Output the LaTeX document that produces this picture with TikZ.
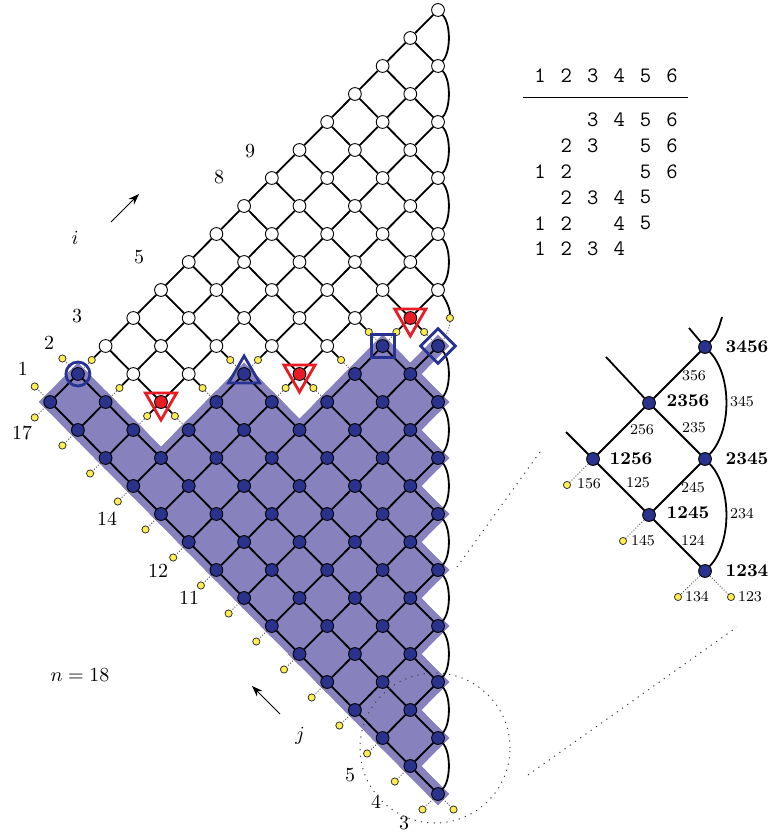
\documentclass[tikz,border=0pt]{standalone}
\usetikzlibrary{shapes.geometric,arrows.meta,calc}
\definecolor{nodeBlue}{RGB}{42,50,140}
\definecolor{shadeBlue}{RGB}{135,130,190}
\definecolor{dotYellow}{RGB}{255,238,80}
\definecolor{cutRed}{RGB}{232,28,36}
\definecolor{markBlue}{RGB}{40,50,145}
\pgfdeclarelayer{shade}
\pgfdeclarelayer{edges}
\pgfsetlayers{shade,edges,main}
\tikzset{
    % lattice edges and vertices
    lat/.style={line width=0.9pt},
    lnode/.style={circle, draw=black, line width=0.45pt, inner sep=0pt, minimum size=6.4pt},
    ydot/.style={circle, draw=black!80, line width=0.4pt, fill=dotYellow, inner sep=0pt, minimum size=3.6pt},
    stub/.style={draw=black!70, line width=0.45pt, dash pattern=on 0.5pt off 0.9pt},
    % shaded domain
    band/.style={draw=shadeBlue, line width=8pt, line cap=rect},
    % markers
    mk/.style={draw=markBlue, line width=1.4pt, inner sep=0pt},
    mkred/.style={draw=cutRed, line width=1.4pt, inner sep=0pt},
    % texts
    lab/.style={inner sep=0pt},
    setlab/.style={font=\fontsize{9}{11}\selectfont\bfseries, inner sep=0pt},
    elab/.style={font=\fontsize{7.5}{9}\selectfont, inner sep=0pt},
    tabd/.style={font=\ttfamily\fontsize{11}{13}\selectfont, inner sep=0pt},
    arr/.style={-{Stealth[length=5.5pt,width=4pt]}, line width=0.5pt},
    zoomline/.style={draw=black!75, line width=0.5pt, dash pattern=on 0.6pt off 2.6pt},
    lens/.style={circle, zoomline, minimum size=75pt, inner sep=0pt},
}
% first blue row on each diagonal, and red vertex on it
\def\bluefrom{{13,13,13,10,10,7,6,7,8,9,10,11,12,13,14}}
\def\redat{{-1,-1,12,-1,9,6,-1,-1,-1,-1,-1,-1,-1,-1,-1}}
% 0 white, 1 red, 2 blue
\newcommand{\gettype}[3]{%
  \pgfmathtruncatemacro\gtf{\bluefrom[#2]}%
  \pgfmathtruncatemacro\gtr{\redat[#2]}%
  \ifnum#1<\gtf\relax
    \ifnum#1=\gtr\relax\def#3{1}\else\def#3{0}\fi
  \else\def#3{2}\fi}
\newcommand{\latedge}[4]{%
  \gettype{#1}{#2}{\tya}\gettype{#3}{#4}{\tyb}%
  \def\ek{0}%
  \ifnum\tya=2 \ifnum\tyb<2 \def\ek{1}\fi\else\ifnum\tyb=2 \def\ek{2}\fi\fi
  \ifcase\ek\relax
    \draw[lat] (v-#1-#2) -- (v-#3-#4);
  \or
    \node[ydot] (c-#1-#2-#3-#4) at ($(v-#1-#2)!0.5!(v-#3-#4)$) {};
    \draw[stub] (v-#1-#2) -- (c-#1-#2-#3-#4);
    \draw[lat] (c-#1-#2-#3-#4) -- (v-#3-#4);
  \or
    \node[ydot] (c-#1-#2-#3-#4) at ($(v-#1-#2)!0.5!(v-#3-#4)$) {};
    \draw[lat] (v-#1-#2) -- (c-#1-#2-#3-#4);
    \draw[stub] (c-#1-#2-#3-#4) -- (v-#3-#4);
  \fi}
\newcommand{\latarc}[2]{%
  \gettype{#1}{#1}{\tya}\gettype{#2}{#2}{\tyb}%
  \def\ek{0}%
  \ifnum\tya<2 \ifnum\tyb=2 \def\ek{1}\fi\fi
  \ifcase\ek\relax
    \draw[lat] (v-#1-#1) .. controls +(13,14) and +(13,-14) .. (v-#2-#2);
  \or
    \node[ydot] (c-arc-#1) at ($(v-#1-#1)+(12,28)$) {};
    \draw[lat] (v-#1-#1) .. controls +(6,7) and +(0,-10.5) .. (c-arc-#1);
    \draw[stub] (c-arc-#1) .. controls +(0,10.5) and +(6,-7) .. (v-#2-#2);
  \fi}
\newcommand{\outstub}[4]{%
  \node[ydot] (o-#1-#2-#3) at ($(v-#1-#2)+#4$) {};
  \draw[stub] (v-#1-#2) -- (o-#1-#2-#3);}

\begin{document}
\begin{tikzpicture}[x=0.5pt,y=-0.5pt]
    \useasboundingbox (0,0) rectangle (771,833);

    % lattice vertices
    \foreach \p in {0,...,14}{
        \foreach \q in {0,...,\p}{
            \gettype{\p}{\q}{\tya}
            \ifcase\tya\relax \def\fc{white}\or\def\fc{cutRed}\or\def\fc{nodeBlue}\fi
            \node[lnode, fill=\fc] (v-\p-\q) at ({438+27.7*(\q-\p)},{10+28*(\p+\q)}) {};
        }
    }

    % lattice edges
    \begin{pgfonlayer}{edges}
    \foreach \p in {0,...,14}{
        \foreach \q in {0,...,\p}{
            \pgfmathtruncatemacro\pn{\p+1}
            \pgfmathtruncatemacro\qn{\q+1}
            \ifnum\p<14 \latedge{\p}{\q}{\pn}{\q}\fi
            \ifnum\q<\p \latedge{\p}{\q}{\p}{\qn}\else
                \ifnum\p<14 \latarc{\p}{\pn}\fi
            \fi
        }
    }
    \foreach \q in {0,...,14} \outstub{14}{\q}{dl}{(-15.5,15.5)};
    \outstub{14}{14}{dr}{(15.5,15.5)}
    \outstub{13}{0}{ul}{(-15.5,-15.5)}
    \outstub{14}{0}{ul}{(-15.5,-15.5)}
    \end{pgfonlayer}

    % shaded domain
    \begin{pgfonlayer}{shade}
    \foreach \p in {0,...,14}{
        \foreach \q in {0,...,\p}{
            \gettype{\p}{\q}{\tya}
            \ifnum\tya=2
                \pgfmathtruncatemacro\pn{\p+1}
                \pgfmathtruncatemacro\qn{\q+1}
                \ifnum\p<14 \draw[band] (v-\p-\q.center) -- (v-\pn-\q.center);\fi
                \ifnum\q<\p
                    \draw[band] (v-\p-\q.center) -- (v-\p-\qn.center);
                    \ifnum\p<14
                        \fill[shadeBlue] (v-\p-\q.center) -- (v-\pn-\q.center) -- (v-\pn-\qn.center) -- (v-\p-\qn.center) -- cycle;
                    \fi
                \fi
            \fi
        }
    }
    \end{pgfonlayer}

    % markers
    \node[mk, circle, minimum size=12pt] (mk-circ) at (v-13-0) {};
    \node[mk, regular polygon, regular polygon sides=3, minimum size=18pt] (mk-tri) at (v-10-3) {};
    \foreach \p/\q in {12/2, 9/4, 6/5}
        \node[mkred, regular polygon, regular polygon sides=3, shape border rotate=180, minimum size=18pt] (mk-r-\p) at (v-\p-\q) {};
    \node[mk, rectangle, minimum size=11.5pt] (mk-sq) at (v-7-5) {};
    \node[mk, diamond, minimum size=18pt] (mk-dia) at (v-6-6) {};

    % diagonal numbers
    \foreach \t/\x/\y in {1/23/369, 2/49/343, 3/77/316, 5/139/257, 8/219/177, 9/250/151,
                          17/22/433, 14/107/519, 12/158/571, 11/189/598, 5/350/775, 4/376/802, 3/404/823}
        \node[lab] (l-\x) at (\x,\y) {\t};
    \node[lab] (l-i) at (75,238) {$i$};
    \coordinate (ia) at (111,222);
    \coordinate (ib) at (139,194);
    \draw[arr] (ia) -- (ib);
    \node[lab] (l-j) at (300,736) {$j$};
    \coordinate (ja) at (280,714);
    \coordinate (jb) at (252,686);
    \draw[arr] (ja) -- (jb);
    \node[lab] (l-n) at (80,675) {$n=18$};

    % zoom circle and its lines
    \node[lens] (lens) at (435,748) {};
    \coordinate (zl1a) at (540,452);
    \coordinate (zl1b) at (457,567);
    \draw[zoomline] (zl1a) -- (zl1b);
    \coordinate (zl2a) at (528,775);
    \coordinate (zl2b) at (737,627);
    \draw[zoomline] (zl2a) -- (zl2b);

    % enlarged corner
    \node[lnode, fill=nodeBlue] (z3456) at (705,347) {};
    \node[lnode, fill=nodeBlue] (z2356) at (649,403) {};
    \node[lnode, fill=nodeBlue] (z1256) at (593,459) {};
    \node[lnode, fill=nodeBlue] (z2345) at (705,459) {};
    \node[lnode, fill=nodeBlue] (z1245) at (649,515) {};
    \node[lnode, fill=nodeBlue] (z1234) at (705,571) {};
    \node[ydot] (y156) at (567,485) {};
    \node[ydot] (y145) at (623,541) {};
    \node[ydot] (y134) at (678,597) {};
    \node[ydot] (y123) at (731,597) {};
    \coordinate (zt1) at (689,328);
    \coordinate (zt2) at (722,317);
    \coordinate (zt3) at (606,357);
    \coordinate (zt4) at (566,432);
    \begin{pgfonlayer}{edges}
    \draw[lat] (z3456) -- (z2356);
    \draw[lat] (z2356) -- (z1256);
    \draw[lat] (z2356) -- (z2345);
    \draw[lat] (z1256) -- (z1245);
    \draw[lat] (z2345) -- (z1245);
    \draw[lat] (z1245) -- (z1234);
    \draw[lat] (z3456) .. controls +(27,28) and +(27,-28) .. (z2345);
    \draw[lat] (z2345) .. controls +(27,28) and +(27,-28) .. (z1234);
    \draw[lat] (z3456) -- (zt1);
    \draw[lat] (z3456) .. controls +(12,-12) and +(-3,10) .. (zt2);
    \draw[lat] (z2356) -- (zt3);
    \draw[lat] (z1256) -- (zt4);
    \draw[stub] (z1256) -- (y156);
    \draw[stub] (z1245) -- (y145);
    \draw[stub] (z1234) -- (y134);
    \draw[stub] (z1234) -- (y123);
    \end{pgfonlayer}
    \foreach \t/\x/\y in {3456/747/347, 2356/688/401, 1256/631/459, 2345/747/459, 1245/688/513, 1234/747/571}
        \node[setlab] (s-\t) at (\x,\y) {\t};
    \foreach \t/\x/\y in {356/694/376, 345/742/402, 256/642/430, 235/694/428, 125/638/483, 245/693/488,
                          234/742/514, 124/693/540, 156/589/484, 145/643/541, 134/697/597, 123/750/597}
        \node[elab] (e-\t) at (\x,\y) {\t};

    % table of subsets
    \foreach \d in {1,...,6}
        \node[tabd] (th-\d) at ({540+26.4*(\d-1)},76) {\d};
    \coordinate (rule-l) at (523,98);
    \coordinate (rule-r) at (688,98);
    \draw[line width=0.5pt] (rule-l) -- (rule-r);
    \foreach \row [count=\r] in {{3,4,5,6},{2,3,5,6},{1,2,5,6},{2,3,4,5},{1,2,4,5},{1,2,3,4}}
        \foreach \d in \row
            \node[tabd] (t-\r-\d) at ({540+26.4*(\d-1)},{120+25.8*(\r-1)}) {\d};
\end{tikzpicture}
\end{document}
